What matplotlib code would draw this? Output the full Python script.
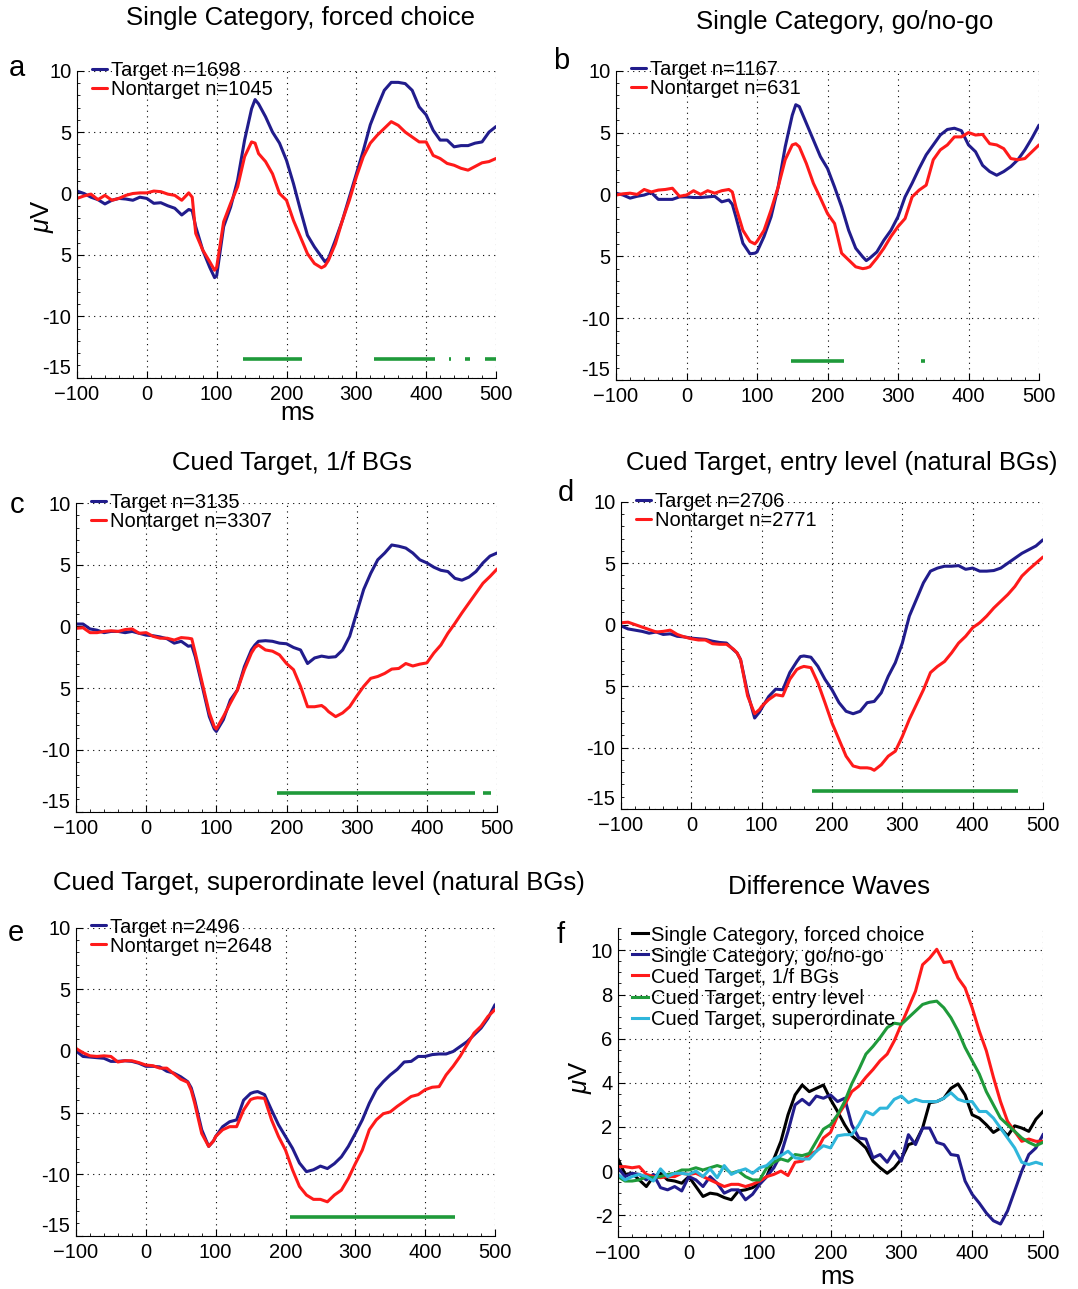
import numpy as np
import matplotlib
matplotlib.use("Agg")
import matplotlib.pyplot as plt
from matplotlib.ticker import MultipleLocator

plt.rcParams['font.family'] = ['Liberation Sans', 'DejaVu Sans']
plt.rcParams['mathtext.fontset'] = 'custom'
plt.rcParams['mathtext.it'] = 'Liberation Sans:italic'
plt.rcParams['mathtext.rm'] = 'Liberation Sans'

# ---------------- data ----------------
t = [-100, -90, -80, -70, -60, -50, -40, -30, -20, -10, 0, 10, 20, 30, 40, 50, 60, 65, 70, 80, 90,
     97, 100, 110, 120, 130, 140, 150, 155, 160, 170, 180, 190, 200, 210, 220, 230, 240, 250, 255,
     260, 270, 280, 290, 300, 310, 320, 330, 340, 350, 360, 370, 380, 390, 400, 410, 420, 430,
     440, 450, 460, 470, 480, 490, 500]

a_target = [0.2, 0, -0.3, -0.5, -0.85, -0.55, -0.4, -0.45, -0.55, -0.3, -0.4, -0.8, -0.75, -1.0, -1.2,
            -1.75, -1.3, -1.4, -2.7, -4.6, -6.0, -6.85, -6.7, -2.7, -1.1, 1.1, 4.35, 6.9, 7.65, 7.3,
            6.25, 5.0, 4.1, 2.7, 0.8, -1.35, -3.4, -4.35, -5.15, -5.55, -5.3, -3.8, -2.2, -0.3, 1.6,
            3.5, 5.6, 7.05, 8.4, 9.05, 9.05, 8.95, 8.4, 7.05, 6.4, 5.15, 4.35, 4.35, 3.8, 3.9, 3.9,
            4.1, 4.2, 5.0, 5.45]
a_nontarget = [-0.4, -0.2, -0.05, -0.5, -0.15, -0.55, -0.4, -0.15, 0, 0.05, 0.05, 0.2, 0.15, -0.05,
               -0.15, -0.55, 0.05, -0.3, -3.25, -4.6, -5.55, -6.25, -6.0, -2.3, -0.8, 0.55, 3.0, 4.2,
               4.1, 3.25, 2.6, 1.6, 0.0, -0.55, -2.2, -3.55, -4.9, -5.7, -6.05, -5.9, -5.45, -4.1,
               -2.2, -0.55, 1.35, 3.0, 4.1, 4.75, 5.3, 5.85, 5.55, 5.0, 4.6, 4.2, 4.2, 3.1, 2.85,
               2.45, 2.3, 2.05, 1.9, 2.2, 2.5, 2.6, 2.85]

b_target = [0.1, -0.05, -0.3, -0.15, -0.05, 0.15, -0.4, -0.4, -0.4, -0.2, -0.2, -0.25, -0.25, -0.2,
            -0.15, -0.6, -0.45, -0.8, -1.8, -3.95, -4.8, -4.75, -4.65, -3.4, -1.8, 0.6, 3.85, 6.4,
            7.25, 7.1, 5.75, 4.4, 3.05, 2.1, 0.6, -1.0, -2.9, -4.35, -5.05, -5.35, -5.15, -4.65,
            -3.7, -2.9, -1.8, -0.2, 0.9, 2.1, 3.2, 4.0, 4.8, 5.25, 5.35, 5.15, 4.0, 3.45, 2.35,
            1.85, 1.55, 1.85, 2.25, 2.8, 3.6, 4.55, 5.6]
b_nontarget = [-0.05, 0.05, 0.1, 0, 0.4, 0.2, 0.35, 0.4, 0.5, -0.15, -0.05, 0.3, 0, 0.3, 0.1, 0.3,
               0.4, 0.2, -1.0, -2.9, -3.8, -4.0, -3.8, -2.9, -1.25, 0.6, 2.8, 4.0, 4.1, 3.85, 2.5,
               0.9, -0.3, -1.55, -2.35, -4.75, -5.3, -5.85, -6.0, -5.95, -5.85, -5.15, -4.35, -3.4,
               -2.6, -1.95, -0.2, 0.35, 0.75, 2.8, 3.6, 4.0, 4.65, 4.65, 5.0, 4.8, 4.85, 4.1, 4.0,
               3.7, 2.9, 2.8, 2.9, 3.45, 4.0]

c_target = [0.2, 0.2, -0.2, -0.3, -0.5, -0.4, -0.4, -0.5, -0.4, -0.55, -0.7, -0.75, -0.85, -1.0,
            -1.35, -1.2, -1.6, -1.55, -2.45, -4.85, -7.3, -8.3, -8.5, -7.55, -5.95, -5.15, -3.25,
            -1.9, -1.5, -1.2, -1.15, -1.2, -1.35, -1.4, -1.7, -1.9, -3.0, -2.55, -2.4, -2.45, -2.5,
            -2.45, -1.9, -0.8, 1.1, 3.0, 4.3, 5.4, 5.95, 6.6, 6.5, 6.35, 5.95, 5.4, 5.15, 4.8,
            4.55, 4.45, 3.9, 3.75, 4.0, 4.45, 5.15, 5.7, 5.95]
c_nontarget = [-0.15, -0.1, -0.5, -0.5, -0.4, -0.35, -0.4, -0.25, -0.2, -0.55, -0.5, -0.8, -0.95,
               -0.95, -1.1, -0.9, -0.95, -1.0, -2.15, -4.6, -7.0, -8.1, -8.3, -7.3, -6.2, -5.15,
               -3.5, -2.15, -1.7, -1.5, -1.9, -2.0, -2.3, -3.0, -3.5, -4.85, -6.5, -6.5, -6.4,
               -6.6, -6.9, -7.3, -7.0, -6.5, -5.65, -4.85, -4.2, -4.05, -3.8, -3.45, -3.4, -3.0,
               -3.2, -3.05, -2.95, -2.15, -1.5, -0.55, 0.25, 1.1, 1.9, 2.7, 3.5, 4.05, 4.65]

d_target = [-0.1, -0.35, -0.45, -0.55, -0.7, -0.6, -0.8, -0.75, -0.95, -1.0, -1.1, -1.15, -1.2,
            -1.35, -1.45, -1.5, -2.05, -2.3, -2.85, -5.55, -7.6, -7.1, -6.8, -5.85, -5.25, -5.3,
            -3.9, -3.0, -2.6, -2.55, -2.65, -3.4, -4.45, -5.3, -6.35, -7.05, -7.25, -7.05, -6.35,
            -6.3, -6.25, -5.55, -4.2, -3.1, -1.5, 0.7, 2.05, 3.4, 4.35, 4.6, 4.75, 4.75, 4.8,
            4.5, 4.6, 4.35, 4.35, 4.4, 4.6, 5.0, 5.4, 5.8, 6.1, 6.4, 6.9]
d_nontarget = [0.15, 0.2, 0, -0.2, -0.4, -0.6, -0.55, -0.45, -0.8, -1.0, -1.15, -1.25, -1.25,
               -1.55, -1.6, -1.6, -2.0, -2.3, -2.85, -5.8, -7.25, -6.9, -6.65, -6.1, -5.7, -5.8,
               -4.45, -3.65, -3.5, -3.4, -3.5, -4.75, -6.35, -8.0, -9.35, -10.7, -11.5, -11.65,
               -11.65, -11.7, -11.85, -11.4, -10.7, -10.3, -9.1, -7.7, -6.5, -5.3, -3.9, -3.4,
               -3.0, -2.3, -1.5, -0.95, -0.25, 0.15, 0.7, 1.35, 1.9, 2.45, 3.1, 3.95, 4.5, 5.0, 5.5]

e_target = [0, -0.45, -0.5, -0.55, -0.6, -0.85, -0.85, -0.8, -0.85, -1.0, -1.25, -1.25, -1.3, -1.65,
            -1.8, -2.1, -2.5, -3.0, -4.0, -6.4, -7.75, -7.3, -6.95, -6.15, -5.75, -5.6, -4.0,
            -3.45, -3.35, -3.3, -3.55, -4.8, -6.0, -6.95, -7.9, -9.1, -9.8, -9.65, -9.35, -9.45,
            -9.55, -9.15, -8.6, -7.75, -6.7, -5.6, -4.25, -3.15, -2.5, -1.95, -1.5, -0.9, -0.85,
            -0.45, -0.45, -0.3, -0.25, -0.25, -0.05, 0.35, 0.75, 1.3, 1.85, 2.65, 3.75]
e_nontarget = [0.2, -0.15, -0.4, -0.45, -0.4, -0.45, -0.9, -0.8, -0.8, -0.95, -1.15, -1.2, -1.4,
               -1.4, -1.85, -2.3, -2.55, -3.2, -4.25, -6.7, -7.75, -7.3, -6.95, -6.4, -6.15, -6.15,
               -4.8, -3.95, -3.85, -3.8, -3.85, -5.6, -6.95, -8.05, -9.65, -11.0, -11.7, -12.05,
               -12.05, -12.15, -12.25, -11.7, -11.3, -10.35, -9.15, -8.05, -6.4, -5.6, -5.1, -4.95,
               -4.5, -4.1, -3.7, -3.55, -3.15, -2.95, -2.9, -1.95, -1.25, -0.45, 0.5, 1.45, 2.0,
               2.8, 3.35]

# significance bars (ms intervals)
a_sig = [(137, 222), (325, 413), (432, 436), (455, 463), (484, 500)]
b_sig = [(148, 224), (332, 339)]
c_sig = [(187, 468), (480, 492)]
d_sig = [(172, 464)]
e_sig = [(206, 443)]

# difference waves (panel f)
tf = [-100, -90, -80, -70, -60, -50, -40, -30, -20, -10, 0, 10, 20, 30, 40, 50, 60, 70, 80, 90, 100,
      110, 120, 130, 140, 150, 160, 170, 180, 190, 200, 210, 220, 230, 240, 250, 260, 270, 280,
      290, 300, 310, 320, 330, 340, 350, 360, 370, 380, 390, 400, 410, 420, 430, 440, 450, 460,
      470, 480, 490, 500]
f_forced = [0.55, -0.15, -0.1, -0.4, -0.7, -0.25, -0.1, -0.4, -0.45, -0.55, -0.25, -0.7, -1.15,
            -1.0, -1.05, -1.2, -1.3, -0.9, -0.85, -0.75, -0.55, -0.25, 0.55, 1.35, 2.55, 3.45, 3.9,
            3.6, 3.75, 3.9, 3.25, 2.7, 2.1, 1.6, 1.35, 1.05, 0.45, 0.15, -0.1, 0.15, 0.55, 1.2,
            1.3, 1.95, 3.1, 3.15, 3.3, 3.75, 3.95, 3.45, 2.55, 2.4, 2.1, 1.75, 1.95, 1.6, 2.05,
            1.95, 1.8, 2.35, 2.7]
f_gonogo = [0.15, -0.25, -0.1, -0.15, -0.4, -0.15, -0.75, -0.85, -0.7, -0.9, -0.25, -0.4, -0.7,
            -0.25, -0.55, -1.0, -0.85, -0.85, -1.3, -1.05, -0.6, -0.25, 0.15, 0.75, 1.8, 3.0, 3.25,
            3.0, 3.4, 3.3, 3.45, 3.15, 3.3, 2.1, 1.5, 1.45, 0.6, 0.75, 0.4, 0.9, 0.45, 1.65, 1.2,
            1.95, 1.95, 1.3, 1.2, 0.75, 0.7, -0.45, -1.05, -1.45, -1.9, -2.25, -2.4, -1.8, -0.9,
            0.0, 0.75, 1.05, 1.65]
f_oneoverf = [0.2, 0.2, 0.15, 0.2, -0.15, -0.25, -0.3, -0.25, -0.25, -0.1, -0.15, -0.1, -0.25,
              -0.4, -0.55, -0.7, -0.6, -0.6, -0.7, -0.6, -0.45, -0.25, -0.15, 0, -0.2, 0.4, 0.45,
              0.75, 0.9, 1.5, 1.75, 2.5, 3.0, 3.6, 3.85, 4.25, 4.6, 5.0, 5.3, 5.9, 6.65, 7.4, 8.15,
              9.35, 9.65, 10.05, 9.45, 9.5, 8.75, 8.3, 7.4, 6.35, 5.45, 4.25, 3.15, 2.25, 1.8,
              1.35, 1.45, 1.35, 1.35]
f_entry = [-0.25, -0.45, -0.45, -0.4, -0.25, -0.3, -0.25, -0.15, -0.1, 0.05, 0.05, 0.15, 0.05,
           0.15, 0.25, 0.15, -0.1, 0, -0.25, -0.4, -0.4, 0.15, 0.4, 0.55, 0.45, 0.75, 0.7, 0.8,
           1.35, 1.9, 2.1, 2.55, 3.15, 3.95, 4.6, 5.3, 5.65, 6.05, 6.5, 6.7, 6.65, 6.95, 7.25,
           7.55, 7.65, 7.7, 7.4, 6.95, 6.35, 5.6, 5.0, 4.4, 3.6, 3.0, 2.4, 2.1, 1.8, 1.5, 1.3,
           1.15, 1.3]
f_superord = [-0.15, -0.4, -0.25, -0.15, -0.25, -0.45, 0.1, -0.25, -0.1, -0.1, -0.15, 0, -0.25,
              0.1, -0.3, 0.25, -0.15, 0, 0.1, -0.1, 0.15, 0.25, 0.55, 0.7, 0.9, 0.6, 0.55, 0.55,
              0.9, 1.15, 1.05, 1.6, 1.65, 1.65, 2.1, 2.7, 2.55, 2.85, 2.85, 3.25, 3.4, 3.1, 3.25,
              3.15, 3.15, 3.15, 3.3, 3.55, 3.25, 3.15, 3.15, 2.7, 2.7, 2.4, 1.95, 1.5, 1.05, 0.4,
              0.3, 0.4, 0.3]

navy = '#211c8c'
red = '#ff1a1a'
green = '#1f9a3a'
cyan = '#2fb6db'
black = '#000000'

TICK_FS = 14.5
LEG_FS = 14.5
TITLE_FS = 18.5
LABEL_FS = 18.5
LETTER_FS = 21

W, H = 1078, 1289
fig = plt.figure(figsize=(W / 100, H / 100), dpi=100)


def add_ax(left, right, top, bottom):
    return fig.add_axes([left / W, 1 - bottom / H, (right - left) / W, (bottom - top) / H])


def style(ax, ylim, yticks, yticklabels, yminor):
    ax.set_xlim(-100, 500)
    ax.set_ylim(*ylim)
    ax.set_xticks([-100, 0, 100, 200, 300, 400, 500])
    ax.set_yticks(yticks)
    ax.set_yticklabels(yticklabels)
    ax.xaxis.set_minor_locator(MultipleLocator(20))
    ax.yaxis.set_minor_locator(MultipleLocator(yminor))
    ax.tick_params(which='both', direction='in', labelsize=TICK_FS, top=False, right=False)
    ax.tick_params(which='major', length=5, width=0.8)
    ax.tick_params(which='minor', length=2.5, width=0.6)
    ax.tick_params(axis='x', pad=5)
    ax.tick_params(axis='y', pad=4)
    for s in ['top', 'right']:
        ax.spines[s].set_visible(False)
    ax.grid(True, which='major', color='black', linestyle=(0, (1, 4)), linewidth=0.8)
    ax.set_axisbelow(True)
    # lowest y label sits on the axis corner (as in the original MATLAB figure)
    ax.get_yticklabels()[0].set_verticalalignment('bottom')


yt = [-15, -10, -5, 0, 5, 10]
ytl = ['-15', '-10', '5', '0', '5', '10']

panels = [
    ((77, 496, 70.7, 377.7), a_target, a_nontarget, a_sig, 'Target n=1698', 'Nontarget n=1045'),
    ((616, 1039, 70.7, 380), b_target, b_nontarget, b_sig, 'Target n=1167', 'Nontarget n=631'),
    ((76, 497, 503, 811.7), c_target, c_nontarget, c_sig, 'Target n=3135', 'Nontarget n=3307'),
    ((621, 1043, 501.7, 809), d_target, d_nontarget, d_sig, 'Target n=2706', 'Nontarget n=2771'),
    ((76, 495, 927.7, 1235.7), e_target, e_nontarget, e_sig, 'Target n=2496', 'Nontarget n=2648'),
]

for rect, tgt, ntg, sig, l1, l2 in panels:
    ax = add_ax(*rect)
    style(ax, (-15, 10), yt, ytl, 1)
    ax.plot(t, tgt, color=navy, lw=2.2, label=l1, solid_capstyle='round')
    ax.plot(t, ntg, color=red, lw=2.2, label=l2, solid_capstyle='round')
    for s0, s1 in sig:
        ax.plot([s0, s1], [-13.5, -13.5], color=green, lw=2.6, solid_capstyle='butt')
    ax.legend(loc='upper left', bbox_to_anchor=(0.036, 1.033), frameon=False, fontsize=LEG_FS,
              handlelength=0.75, handletextpad=0.2, borderpad=0, labelspacing=0.0,
              borderaxespad=0)

# panel f
axf = add_ax(618, 1043, 928.3, 1237.3)
style(axf, (-3, 11), [-2, 0, 2, 4, 6, 8, 10], ['-2', '0', '2', '4', '6', '8', '10'], 0.5)
axf.get_yticklabels()[0].set_verticalalignment('center_baseline')
axf.plot(tf, f_forced, color=black, lw=2.2, label='Single Category, forced choice')
axf.plot(tf, f_gonogo, color=navy, lw=2.2, label='Single Category, go/no-go')
axf.plot(tf, f_oneoverf, color=red, lw=2.2, label='Cued Target, 1/f BGs')
axf.plot(tf, f_entry, color=green, lw=2.2, label='Cued Target, entry level')
axf.plot(tf, f_superord, color=cyan, lw=2.2, label='Cued Target, superordinate')
axf.legend(loc='upper left', bbox_to_anchor=(0.033, 1.009), frameon=False, fontsize=LEG_FS,
           handlelength=0.8, handletextpad=0.15, borderpad=0, labelspacing=0.1,
           borderaxespad=0)

# titles
titles = [
    ('Single Category, forced choice', 300, 18),
    ('Single Category, go/no-go', 845, 22),
    ('Cued Target, 1/f BGs', 292, 463),
    ('Cued Target, entry level (natural BGs)', 842, 463),
    ('Cued Target, superordinate level (natural BGs)', 319, 883),
    ('Difference Waves', 829, 887),
]
for txt, x, y in titles:
    fig.text(x / W, 1 - y / H, txt, ha='center', va='center', fontsize=TITLE_FS)

letters = [('a', 17, 68), ('b', 561, 61), ('c', 17, 505), ('d', 566, 493), ('e', 16, 933),
           ('f', 561, 935)]
for txt, x, y in letters:
    fig.text(x / W, 1 - y / H, txt, ha='center', va='center', fontsize=LETTER_FS)

fig.text(298 / W, 1 - 413 / H, 'ms', ha='center', va='center', fontsize=LABEL_FS)
fig.text(838 / W, 1 - 1277 / H, 'ms', ha='center', va='center', fontsize=LABEL_FS)
fig.text(43 / W, 1 - 216 / H, r'$\mu$V', ha='center', va='center', fontsize=LABEL_FS, rotation=90)
fig.text(580 / W, 1 - 1077 / H, r'$\mu$V', ha='center', va='center', fontsize=LABEL_FS, rotation=90)

fig.savefig('out.png', dpi=100, facecolor='white')
